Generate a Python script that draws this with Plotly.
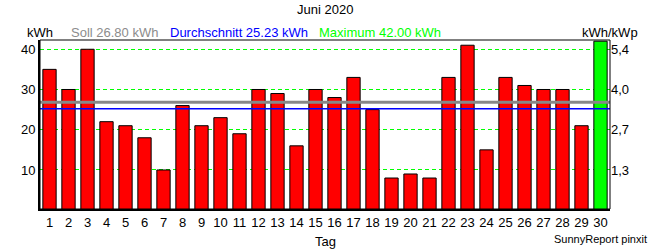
import numpy as np
import plotly.graph_objects as go

days = list(range(1, 31))
energy_kwh = [35, 30, 40, 22, 21, 18, 10, 26, 21, 23, 19, 30, 29, 16, 30, 28, 33, 25,
              8, 9, 8, 33, 41, 15, 33, 31, 30, 30, 21, 42]
soll_kwh = 26.80
left_ticks = [10, 20, 30, 40]
right_tick_labels = ["1,3", "2,7", "4,0", "5,4"]
title_text = "Juni 2020"

avg_kwh = float(np.mean(energy_kwh))
max_kwh = max(energy_kwh)
bar_colors = ["#00ff00" if v == max_kwh else "#ff0000" for v in energy_kwh]

FONT = "Liberation Sans, Arial, sans-serif"
W, H = 650, 250
L, R, T, B = 40, 40, 40, 40.5
pw, ph = W - L - R, H - T - B

def px(x):
    return (x - L) / pw

def py(y):
    return (H - B - y) / ph

yrange = [0.3, 42.3]

fig = go.Figure()
fig.add_trace(go.Bar(
    x=days, y=energy_kwh, width=0.7,
    marker=dict(color=bar_colors, line=dict(color="black", width=1)),
    showlegend=False, hoverinfo="skip",
))
fig.add_trace(go.Scatter(x=[None], y=[None], yaxis="y2", showlegend=False))

# reference lines
fig.add_shape(type="line", xref="paper", x0=0, x1=1, yref="y", y0=soll_kwh, y1=soll_kwh,
              line=dict(color="#888888", width=3), layer="above")
fig.add_shape(type="line", xref="paper", x0=0, x1=1, yref="y", y0=avg_kwh, y1=avg_kwh,
              line=dict(color="#0000ff", width=1.5), layer="above")
# frame
fig.add_shape(type="rect", xref="paper", yref="paper", x0=0, x1=1, y0=0, y1=1,
              line=dict(color="black", width=1), layer="above")

def ann(text, x, y, color="black", size=13, xanchor="center"):
    fig.add_annotation(text=text, xref="paper", yref="paper", x=px(x), y=py(y),
                       xanchor=xanchor, yanchor="middle", showarrow=False,
                       font=dict(family=FONT, size=size, color=color))

ann(title_text, 325, 9)
ann("kWh", 40, 32)
ann(f"Soll {soll_kwh:.2f} kWh", 69, 32, color="#8c8c8c", xanchor="left")
ann(f"Durchschnitt {avg_kwh:.2f} kWh", 168, 32, color="#0000ff", xanchor="left")
ann(f"Maximum {max_kwh:.2f} kWh", 317, 32, color="#00ff00", xanchor="left")
ann("kWh/kWp", 610, 32)
ann("Tag", 325, 242)
ann("SunnyReport pinxit", 649, 239.5, size=11, xanchor="right")

fig.update_layout(
    width=W, height=H,
    margin=dict(l=L, r=R, t=T, b=B, pad=0),
    paper_bgcolor="white", plot_bgcolor="white",
    font=dict(family=FONT, size=13, color="black"),
    bargap=0.3,
    xaxis=dict(range=[0.5, 30.5], tickmode="array", tickvals=days,
               ticktext=[str(d) for d in days], showgrid=False, zeroline=False,
               showline=True, linecolor="black", linewidth=2, ticks="",
               tickfont=dict(size=13, color="black")),
    yaxis=dict(range=yrange, tickmode="array", tickvals=left_ticks,
               ticktext=[str(t) for t in left_ticks], showgrid=True,
               gridcolor="#00ff00", gridwidth=1, griddash="4px,3px",
               zeroline=False, showline=True, linecolor="black", linewidth=2,
               ticks="", tickfont=dict(size=13, color="black")),
    yaxis2=dict(range=yrange, overlaying="y", side="right", tickmode="array",
                tickvals=left_ticks, ticktext=right_tick_labels, showgrid=False,
                zeroline=False, showline=False, ticks="",
                tickfont=dict(size=13, color="black")),
)

fig.write_html("out.html")
